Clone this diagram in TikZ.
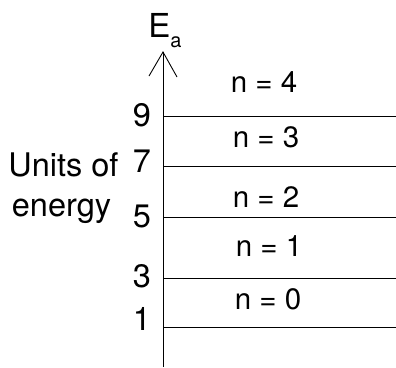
\documentclass[tikz,border=0pt]{standalone}
\usepackage{fontspec}
\setmainfont{TeX Gyre Heros}
\begin{document}
\begin{tikzpicture}[x=1pt,y=-1pt,
  level/.style={line width=0.9pt},
  axisline/.style={line width=0.9pt},
  tick/.style={anchor=base,inner sep=0pt,font=\fontsize{32.5}{38}\selectfont},
  nlabel/.style={anchor=base,inner sep=0pt,font=\fontsize{29.5}{34}\selectfont}]
\useasboundingbox (0,0) rectangle (396,367);
% axis
\coordinate (bot) at (163,367);
\coordinate (top) at (163,52);
\coordinate (hl) at (149,76);
\coordinate (hr) at (177,77);
\draw[axisline] (bot) -- (top);
\draw[axisline,line join=miter] (hl) -- (top) -- (hr);
\node[anchor=base,inner sep=0pt,font=\fontsize{33}{38}\selectfont] (ea) at (165,37.5) {E\raisebox{-9.5pt}{\fontsize{20}{22}\selectfont a}};
% levels
\foreach \y/\nm in {116/l9,166/l7,217/l5,278/l3,327/l1}{
  \coordinate (\nm a) at (163,\y);
  \coordinate (\nm b) at (396,\y);
  \draw[level] (\nm a) -- (\nm b);
}
% energy numbers
\node[tick] (t9) at (142,126) {9};
\node[tick] (t7) at (142,172) {7};
\node[tick] (t5) at (142,227) {5};
\node[tick] (t3) at (142,287) {3};
\node[tick] (t1) at (142,330) {1};
% axis title
\node[tick] (u1) at (63.5,176) {Units of};
\node[tick] (u2) at (61.5,216) {energy};
% quantum numbers
\node[nlabel] (n4) at (264,92.5) {n = 4};
\node[nlabel] (n3) at (266,147.5) {n = 3};
\node[nlabel] (n2) at (266,207) {n = 2};
\node[nlabel] (n1) at (269,256) {n = 1};
\node[nlabel] (n0) at (268,309.5) {n = 0};
\end{tikzpicture}
\end{document}
